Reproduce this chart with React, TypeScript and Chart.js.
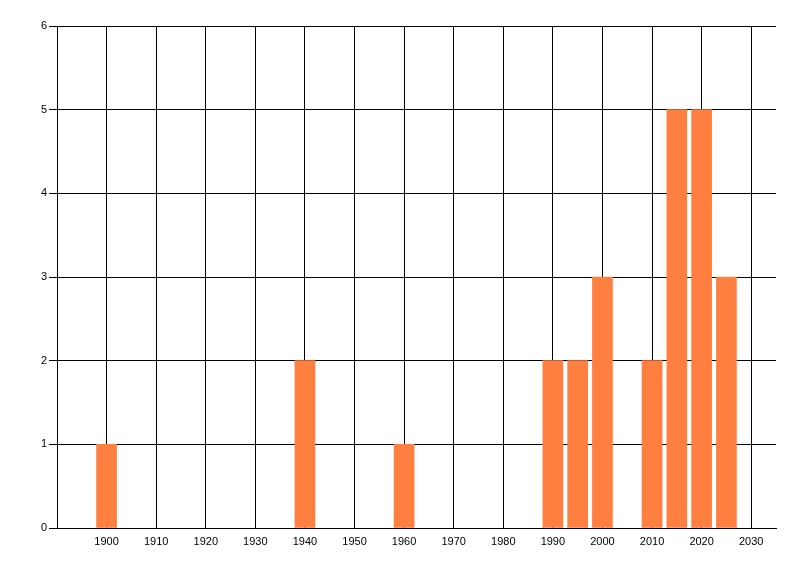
import React, { useEffect, useRef } from 'react';
import { Chart, registerables } from 'chart.js';

Chart.register(...registerables);

// Datos del gráfico
const years = [1900, 1940, 1960, 1990, 1995, 2000, 2010, 2015, 2020, 2025];
const counts = [1, 2, 1, 2, 2, 3, 2, 5, 5, 3];
const xTicks = [1900, 1910, 1920, 1930, 1940, 1950, 1960, 1970, 1980, 1990, 2000, 2010, 2020, 2030];
const yTicks = [0, 1, 2, 3, 4, 5, 6];

const BAR_COLOR = '#FF7F40';
const FONT = { family: '"Liberation Sans", Arial, sans-serif', size: 11 };

const App: React.FC = () => {
  const canvasRef = useRef<HTMLCanvasElement>(null);
  const chartRef = useRef<Chart | null>(null);

  useEffect(() => {
    if (!canvasRef.current) return;
    if (chartRef.current) chartRef.current.destroy();

    chartRef.current = new Chart(canvasRef.current, {
      type: 'bar',
      data: {
        datasets: [{
          data: years.map((y, i) => ({ x: y, y: counts[i] })),
          backgroundColor: BAR_COLOR,
          borderWidth: 0,
          barThickness: 20
        }]
      },
      options: {
        responsive: false,
        animation: false,
        devicePixelRatio: 1,
        layout: { padding: { top: 26, right: 24, left: 0, bottom: 0 } },
        plugins: {
          legend: { display: false },
          tooltip: { enabled: false }
        },
        scales: {
          x: {
            type: 'linear',
            min: 1890,
            max: 2035,
            offset: false,
            afterBuildTicks: (scale: any) => {
              scale.ticks = xTicks.map(v => ({ value: v }));
            },
            afterFit: (scale: any) => { scale.height = 48; },
            grid: { color: '#000', lineWidth: 1, drawTicks: false, offset: false },
            border: { display: true, color: '#000', width: 1 },
            ticks: {
              color: '#000',
              font: FONT,
              padding: 7,
              maxRotation: 0,
              callback: (v: any) => String(v)
            }
          },
          y: {
            min: 0,
            max: 6,
            afterBuildTicks: (scale: any) => {
              scale.ticks = yTicks.map(v => ({ value: v }));
            },
            afterFit: (scale: any) => { scale.width = 57; },
            grid: { color: '#000', lineWidth: 1, drawTicks: true, tickLength: 8 },
            border: { display: true, color: '#000', width: 1 },
            ticks: { color: '#000', font: FONT, padding: 2 }
          }
        }
      }
    });

    return () => {
      if (chartRef.current) {
        chartRef.current.destroy();
        chartRef.current = null;
      }
    };
  }, []);

  return (
    <div style={{ position: 'absolute', left: 0, top: 0, width: 800, height: 576, background: '#fff' }}>
      <canvas ref={canvasRef} width={800} height={576}></canvas>
    </div>
  );
};

export default App;
